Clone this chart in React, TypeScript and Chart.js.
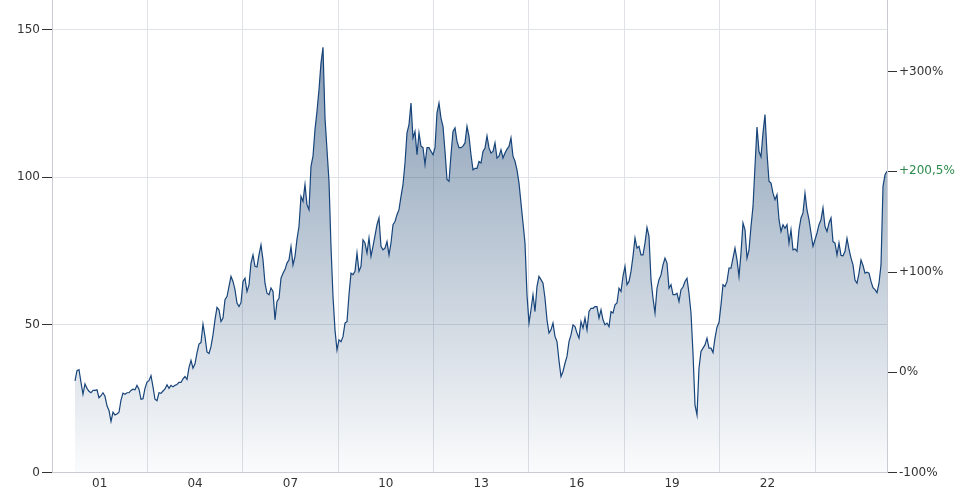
import React, { useEffect, useRef } from 'react';
import { Chart, registerables } from 'chart.js';

Chart.register(...registerables);

// Timeline of the series (decimal years) – uniform sampling step
const START_YEAR = 2000.723;
const STEP_YEARS = 0.0629;
const X_MIN = 2000;

// Price values, period by period
const prices2000to2003 = [
  31.0, 34.5, 34.8, 30.5, 26.5, 30.0, 28.5, 27.5, 27.0, 27.8, 27.8, 28.0, 25.3, 26.0, 27.0, 25.8, 22.6, 21.0, 17.3, 20.4,
  19.5, 19.8, 20.4, 24.5, 26.9, 26.5, 27.0, 27.0, 27.8, 28.2, 28.0, 29.5, 28.2, 24.8, 25.0, 28.5, 30.6, 31.1, 32.8, 29.0,
  24.8, 24.3, 27.0, 26.8, 27.6, 28.3, 29.7, 28.5, 29.5, 29.0, 29.5, 29.8, 30.5, 30.5, 31.7, 32.5, 31.5, 35.5, 38.0, 35.3,
  36.8, 40.5, 43.5, 44.0, 50.2, 46.0, 40.8, 40.3,
];
const prices2005to2009 = [
  42.6, 46.6, 51.7, 55.9, 55.1, 51.1, 52.3, 58.5, 59.6, 63.0, 66.4, 64.7, 61.9, 57.4, 56.2, 57.5, 64.7, 65.8, 61.3, 63.5,
  70.9, 73.7, 69.8, 69.6, 73.7, 77.1, 72.0, 64.1, 60.7, 60.2, 62.5, 61.3, 51.7, 57.9, 59.0, 65.8, 67.5, 68.7, 70.9, 72.0,
  76.5, 70.3, 73.2, 79.0, 83.3, 93.5, 91.8, 97.5, 90.7, 89.0, 103.7, 107.1, 116.1, 122.3, 129.7, 138.7, 144.0, 120.1, 109.3, 98.6,
  76.5, 59.7, 48.3, 41.5, 44.9, 44.3, 46.0, 50.6,
];
const prices2009to2013 = [
  51.1, 60.2, 67.5, 67.0, 68.1, 74.3, 68.1, 69.8, 78.8, 77.7, 74.3, 79.4, 73.2, 76.6, 80.2, 83.9, 86.2, 76.6, 75.4, 76.0,
  78.2, 73.7, 77.7, 83.9, 85.0, 87.3, 89.0, 93.5, 97.5, 104.8, 115.0, 117.8, 125.1, 113.3, 115.5, 107.6, 115.0, 110.5, 110.0, 104.3,
  110.0, 110.0, 108.8, 107.6, 110.0, 121.8, 125.1, 120.0, 117.2, 108.8, 99.2, 98.6, 107.6, 115.5, 116.7, 112.2, 110.0, 110.0, 110.5, 111.6,
  117.2, 113.8, 107.6, 102.5, 103.0, 103.0, 105.3,
];
const prices2013to2017 = [
  104.8, 108.7, 109.9, 114.0, 109.9, 108.2, 108.7, 111.6, 106.5, 107.1, 109.3, 106.5, 108.2, 109.5, 110.4, 113.3, 107.1, 105.4, 102.5, 98.0,
  91.2, 84.5, 77.7, 60.2, 50.6, 55.1, 60.2, 54.5, 63.0, 66.4, 65.3, 64.1, 59.0, 51.7, 47.2, 48.3, 50.6, 46.1, 44.3, 37.9,
  32.5, 34.2, 37.0, 39.3, 44.3, 46.6, 50.0, 49.4, 47.2, 45.5, 51.1, 48.9, 52.3, 48.3, 54.5, 55.6, 55.6, 56.2, 56.2, 52.3,
  55.1, 51.7, 50.0, 50.6, 49.4, 54.5, 54.0,
];
const prices2017to2021 = [
  56.8, 57.4, 62.4, 61.3, 66.4, 69.8, 63.6, 64.7, 68.1, 73.2, 79.4, 76.0, 76.6, 73.7, 73.7, 77.7, 83.0, 80.0, 65.3, 59.0,
  54.0, 62.4, 65.3, 66.9, 70.3, 72.6, 70.9, 62.4, 63.6, 60.2, 60.2, 60.7, 57.9, 61.9, 62.8, 64.7, 65.8, 60.7, 54.0, 40.4,
  22.9, 19.5, 35.3, 41.0, 42.1, 43.2, 45.5, 42.1, 42.1, 40.6, 45.5, 49.2, 50.8, 56.8, 63.6, 63.0, 64.7, 69.2, 69.2, 72.6,
  76.0, 72.0, 66.4, 74.3, 84.5, 82.2, 72.6, 75.4,
];
const prices2021to2026 = [
  83.3, 90.1, 103.7, 117.0, 108.7, 106.9, 115.0, 121.2, 108.2, 98.6, 98.0, 94.6, 92.4, 94.1, 85.6, 81.6, 83.9, 82.7, 83.9, 77.7,
  82.2, 75.4, 75.7, 74.9, 82.2, 86.2, 87.9, 94.6, 88.9, 85.6, 81.1, 76.6, 78.8, 81.1, 83.9, 85.6, 89.6, 83.3, 81.6, 84.5,
  86.2, 78.2, 77.7, 73.7, 77.7, 73.5, 73.4, 74.9, 79.3, 75.6, 72.6, 70.3, 65.2, 64.1, 67.5, 72.0, 70.1, 67.5, 67.8, 67.5,
  64.7, 62.6, 61.9, 60.9, 64.1, 70.3, 96.9, 100.8, 102.0,
];

const prices = [
  ...prices2000to2003,
  ...prices2005to2009,
  ...prices2009to2013,
  ...prices2013to2017,
  ...prices2017to2021,
  ...prices2021to2026,
];
const X_MAX = START_YEAR + (prices.length - 1) * STEP_YEARS;

// Axis ticks
const xLabelYears = [2001.5, 2004.5, 2007.5, 2010.5, 2013.5, 2016.5, 2019.5, 2022.5];
const xLabels = ['01', '04', '07', '10', '13', '16', '19', '22'];
const xGridYears = [2003, 2006, 2009, 2012, 2015, 2018, 2021, 2024];
const yTicks = [0, 50, 100, 150];
const Y_MAX = 160;
const CURRENT_PCT = 200.5;
const pctTicks = [-100, 0, 100, CURRENT_PCT, 300];

const LINE_COLOR = '#17447a';
const GRID_COLOR = '#dfe2e7';
const AXIS_COLOR = '#c9cdd3';
const TEXT_COLOR = '#333333';
const CURRENT_COLOR = '#2b8a4b';
const FONT = { family: '"DejaVu Sans", Verdana, sans-serif', size: 12 };

function fmtPct(p: number): string {
  const s = (Number.isInteger(p) ? String(Math.abs(p)) : String(Math.abs(p)).replace('.', ',')) + '%';
  if (p > 0) return '+' + s;
  if (p < 0) return '-' + s;
  return s;
}

export default function App() {
  const canvasRef = useRef<HTMLCanvasElement | null>(null);

  useEffect(() => {
    const canvas = canvasRef.current;
    if (!canvas) return;
    const base = prices[prices.length - 1] / (1 + CURRENT_PCT / 100);
    const points = prices.map((v, i) => ({ x: START_YEAR + i * STEP_YEARS, y: v }));

    const zeroPad = (s: any) => {
      s.paddingTop = 0;
      s.paddingBottom = 0;
      s.paddingLeft = 0;
      s.paddingRight = 0;
    };

    const chart = new Chart(canvas, {
      type: 'line',
      data: {
        datasets: [
          {
            data: points,
            borderColor: LINE_COLOR,
            borderWidth: 1.2,
            pointRadius: 0,
            tension: 0,
            fill: 'start',
            backgroundColor: (c: any) => {
              const area = c.chart.chartArea;
              if (!area) return 'rgba(24,66,112,0.3)';
              const g = c.chart.ctx.createLinearGradient(0, area.top, 0, area.bottom);
              g.addColorStop(0, 'rgba(24,66,112,0.58)');
              g.addColorStop(1, 'rgba(24,66,112,0.02)');
              return g;
            },
          },
        ],
      },
      options: {
        animation: false,
        responsive: false,
        maintainAspectRatio: false,
        layout: { padding: 0 },
        plugins: { legend: { display: false }, tooltip: { enabled: false } },
        scales: {
          x: {
            type: 'linear',
            min: X_MIN,
            max: X_MAX,
            afterBuildTicks: (s: any) => {
              s.ticks = [...xGridYears, ...xLabelYears].sort((a, b) => a - b).map((v) => ({ value: v }));
            },
            afterFit: (s: any) => {
              s.height = 27.5;
              zeroPad(s);
            },
            ticks: {
              autoSkip: false,
              maxRotation: 0,
              padding: 4,
              color: TEXT_COLOR,
              font: FONT,
              callback: (v: any) => {
                const i = xLabelYears.indexOf(Number(v));
                return i >= 0 ? xLabels[i] : '';
              },
            },
            grid: {
              drawTicks: false,
              color: (c: any) => (c.tick && Number.isInteger(c.tick.value) ? GRID_COLOR : 'rgba(0,0,0,0)'),
            },
            border: { color: AXIS_COLOR },
          },
          y: {
            position: 'left',
            min: 0,
            max: Y_MAX,
            afterBuildTicks: (s: any) => {
              s.ticks = yTicks.map((v) => ({ value: v }));
            },
            afterFit: (s: any) => {
              s.width = 52;
              zeroPad(s);
            },
            ticks: { padding: 2, color: TEXT_COLOR, font: FONT },
            grid: { color: GRID_COLOR, tickColor: TEXT_COLOR, tickLength: 10 },
            border: { color: AXIS_COLOR },
          },
          y1: {
            position: 'right',
            min: 0,
            max: Y_MAX,
            afterBuildTicks: (s: any) => {
              s.ticks = pctTicks.map((p) => ({ value: base * (1 + p / 100) }));
            },
            afterFit: (s: any) => {
              s.width = 980 - 887;
              zeroPad(s);
            },
            ticks: {
              padding: 2,
              font: FONT,
              color: (c: any) => (pctTicks[c.index] === CURRENT_PCT ? CURRENT_COLOR : TEXT_COLOR),
              callback: (_v: any, i: number) => fmtPct(pctTicks[i]),
            },
            grid: { drawOnChartArea: false, tickColor: TEXT_COLOR, tickLength: 10 },
            border: { color: AXIS_COLOR },
          },
        },
      },
    } as any);

    return () => chart.destroy();
  }, []);

  return (
    <div style={{ position: 'fixed', left: 0, top: 0, width: 980, height: 500, background: '#fff' }}>
      <canvas ref={canvasRef} width={980} height={500} style={{ width: 980, height: 500, display: 'block' }} />
    </div>
  );
}
